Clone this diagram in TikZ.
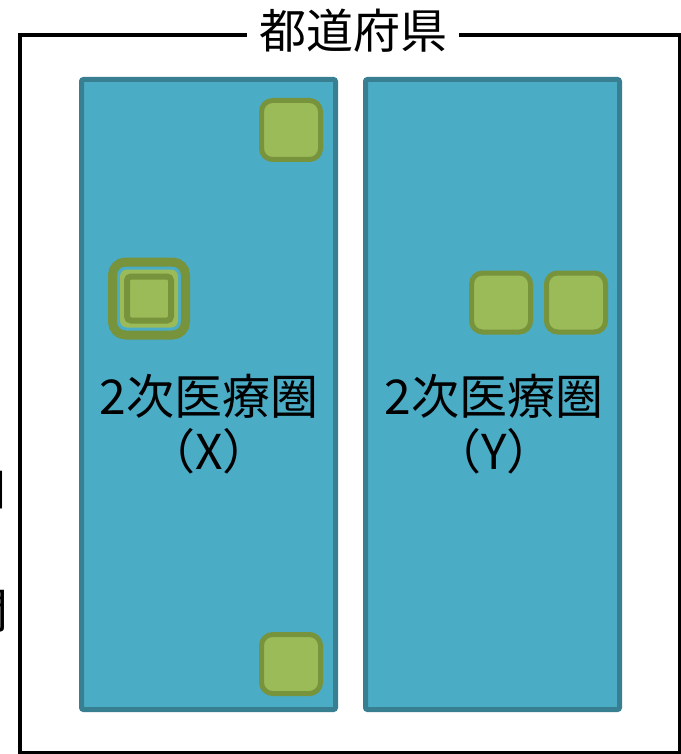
\documentclass[tikz,border=0pt]{standalone}
\usepackage{fontspec}
\newfontfamily\jpfont{Noto Sans CJK JP}
\definecolor{panelfill}{HTML}{4BACC6}
\definecolor{paneldraw}{HTML}{387F92}
\definecolor{gfill}{HTML}{9BBB59}
\definecolor{gdraw}{HTML}{77933C}
\begin{document}
\begin{tikzpicture}[x=1pt,y=-1pt,
  panel/.style={draw=paneldraw,fill=panelfill,line width=5pt,rounded corners=2pt,
    minimum width=254pt,minimum height=630pt,inner sep=0pt},
  gsq/.style={draw=gdraw,fill=gfill,line width=5pt,rounded corners=11pt,
    minimum size=59pt,inner sep=0pt},
  lbl/.style={font=\jpfont\fontsize{48}{55}\selectfont,align=center,inner sep=0pt,text=black},
  ttl/.style={font=\jpfont\fontsize{47}{50}\selectfont,fill=white,inner xsep=12pt,inner ysep=0pt},
  frame/.style={draw=black,line width=4pt}
]
\useasboundingbox (0,0) rectangle (680,754);
\fill[white] (0,0) rectangle (680,754);
% outer frame
\draw[frame] (20,35) rectangle (680,753);
\node[ttl] (title) at (353,31) {都道府県};
% partial glyphs at left edge
\node[lbl,anchor=east] (cut1) at (9,490) {口};
\node[lbl,anchor=east] (cut2) at (9,611) {間};
% panels
\node[panel] (px) at (208.5,394.5) {};
\node[panel] (py) at (492.5,394.5) {};
% green squares
\node[gsq] (x1) at (291,130) {};
\node[gsq] (x2) at (291,664) {};
\node[gsq] (y1) at (501,302.5) {};
\node[gsq] (y2) at (576,302.5) {};
% nested square in X
\node[draw=gdraw,line width=9pt,rounded corners=13pt,minimum size=73pt,inner sep=0pt] (nout) at (149,298.5) {};
\node[fill=gfill,rounded corners=7pt,minimum size=58pt,inner sep=0pt] (nring) at (149,298.5) {};
\node[draw=gdraw,fill=gfill,line width=6pt,rounded corners=4pt,minimum size=44pt,inner sep=0pt] (nin) at (149,298.5) {};
% labels
\node[lbl] (lx) at (209,424) {2次医療圏\\（X）};
\node[lbl] (ly) at (494,424) {2次医療圏\\（Y）};
\end{tikzpicture}
\end{document}
